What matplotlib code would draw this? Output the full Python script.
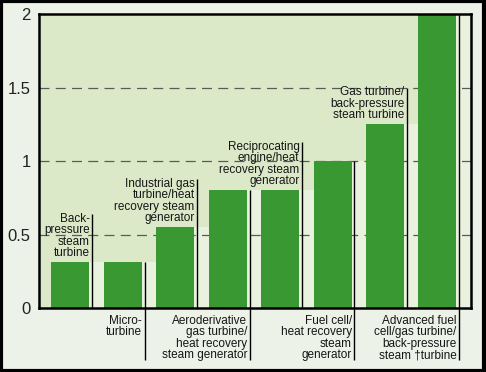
import numpy as np
import matplotlib
matplotlib.use("Agg")
import matplotlib.pyplot as plt
from matplotlib.patches import Rectangle

# data
labels = [
    "Back-\npressure\nsteam\nturbine",
    "Micro-\nturbine",
    "Industrial gas\nturbine/heat\nrecovery steam\ngenerator",
    "Aeroderivative\ngas turbine/\nheat recovery\nsteam generator",
    "Reciprocating\nengine/heat\nrecovery steam\ngenerator",
    "Fuel cell/\nheat recovery\nsteam\ngenerator",
    "Gas turbine/\nback-pressure\nsteam turbine",
    "Advanced fuel\ncell/gas turbine/\nback-pressure\nsteam \u2020turbine",
]
values = [0.31, 0.31, 0.55, 0.80, 0.80, 1.0, 1.25, 2.0]
label_above = [True, False, True, False, True, False, True, False]
yticks = [0, 0.5, 1, 1.5, 2]
yticklabels = ["0", "0.5", "1", "1.5", "2"]

plt.rcParams['font.family'] = ['Liberation Sans', 'DejaVu Sans']

bar_green = "#3a9832"
bg = "#dce9c9"
strip = "#e9f2de"
fig_bg = "#ecf2e8"

fig = plt.figure(figsize=(4.86, 3.72), dpi=100, facecolor=fig_bg)
ax = fig.add_axes([39/486, 1 - 308/372, 432/486, 294/372])
ax.set_facecolor(bg)

x = np.arange(len(values))
w = 0.725
ax.set_xlim(-0.6, 7.64)
ax.set_ylim(0, 2)

# lighter strips in the gaps
for i, v in enumerate(values):
    ax.add_patch(Rectangle((i + w/2, 0), 1 - w, v, facecolor=strip,
                           edgecolor="none", zorder=0.5))

for g in [0.5, 1, 1.5]:
    ax.axhline(g, color="#5a5a5a", lw=0.9, ls=(0, (8, 5)), zorder=1)

ax.bar(x, values, width=w, color=bar_green, zorder=2)

# separator lines and labels
off = 0.055
for i, (v, lab, up) in enumerate(zip(values, labels, label_above)):
    lx = i + w/2 + off
    if up:
        n = lab.count("\n") + 1
        top = v + 0.01 + n * 0.08
        ax.plot([lx, lx], [0, min(top, 2)], color="black", lw=1, zorder=3,
                clip_on=False, solid_capstyle="butt")
        ax.text(lx - 0.05, v + 0.02, lab, ha="right", va="bottom",
                fontsize=8.5, linespacing=0.95, color="#161616", zorder=4)
    else:
        ax.plot([lx, lx], [v, -0.354], color="black", lw=1, zorder=3,
                clip_on=False, solid_capstyle="butt")
        ax.text(lx - 0.05, -0.045, lab, ha="right", va="top",
                fontsize=8.5, linespacing=0.95, color="#161616", zorder=4)

ax.set_xticks([])
ax.set_yticks(yticks)
ax.set_yticklabels(yticklabels, fontsize=12, color="#222222")
ax.tick_params(axis="y", length=0, pad=6)
for s in ax.spines.values():
    s.set_linewidth(1.8)
    s.set_color("black")
    s.set_zorder(5)

fig.patches.append(Rectangle((0.002, 0.003), 0.994, 0.994, transform=fig.transFigure,
                             fill=False, edgecolor="black", linewidth=3))

fig.savefig("out.png", dpi=100, facecolor=fig_bg)
